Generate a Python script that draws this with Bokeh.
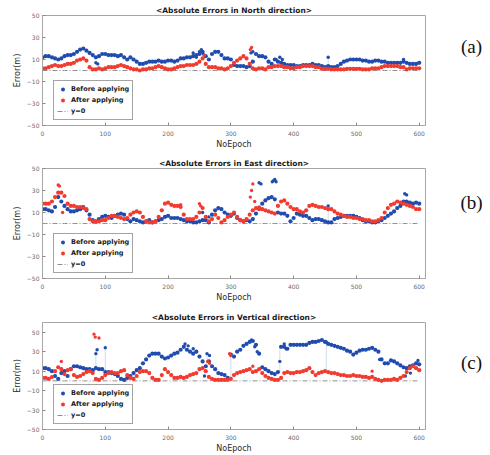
from bokeh.plotting import figure
from bokeh.models import Range1d, FixedTicker, Legend, LegendItem, Label
from bokeh.layouts import column, row
from bokeh.embed import file_html
from bokeh.resources import INLINE

# ---------------- data ----------------
epochs = list(range(0, 601, 5))
zeros = [0] * len(epochs)
x_ticks = [0, 100, 200, 300, 400, 500, 600]
y_ticks = [-50, -30, -10, 10, 30, 50]

north_before = [12, 13, 13, 12, 11, 10, 11, 13, 14, 14,
                15, 17, 19, 20, 18, 16, 14, 12, 13, 15,
                15, 14, 14, 14, 13, 14, 12, 10, 12, 10,
                8, 6, 6, 7, 8, 8, 8, 9, 8, 8,
                9, 9, 8, 9, 11, 11, 12, 12, 13, 14,
                15, 17, 13, 10, 15, 17, 17, 14, 11, 11,
                10, 5, 4, 4, 4, 3, 4, 8, 15, 13,
                13, 12, 8, 6, 10, 8, 7, 6, 5, 5,
                5, 4, 4, 5, 5, 5, 6, 5, 5, 4,
                3, 4, 3, 3, 4, 6, 8, 9, 10, 10,
                10, 10, 9, 9, 8, 8, 9, 9, 8, 8,
                7, 7, 7, 7, 7, 8, 7, 6, 6, 6,
                7]
north_after = [2, 2, 3, 4, 5, 4, 4, 5, 6, 6,
               7, 9, 10, 11, 9, 3, 1, 1, 2, 1,
               2, 3, 3, 3, 4, 5, 4, 3, 2, 1,
               1, 0, 1, 1, 2, 2, 3, 4, 3, 2,
               1, 1, 2, 3, 4, 4, 5, 5, 5, 6,
               8, 11, 6, 3, 3, 3, 2, 2, 1, 2,
               4, 7, 9, 11, 13, 11, 6, 2, 1, 2,
               2, 1, 3, 3, 4, 4, 4, 3, 3, 2,
               2, 3, 3, 4, 4, 4, 4, 3, 3, 1.5,
               1.5, 1.5, 1, 1, 1, 1, 1, 1.5, 1.5, 1.5,
               1.5, 1.5, 1, 1, 1, 2, 2, 2, 3, 4,
               4, 4, 4, 4, 3, 3, 1, 2, 2, 2,
               2]
north_before_out_x = [85, 88, 240, 245, 250, 253, 256, 332, 335, 372, 378, 382, 455, 575]
north_before_out_y = [7, 6, 16, 12, 17, 19, 15, 16, 17, 10, 12, 10, 12, 10]
north_after_out_x = [258, 331, 333]
north_after_out_y = [14, 19, 21]

east_before = [13, 13, 12, 11, 15, 24, 20, 16, 13, 11,
               11, 12, 13, 15, 12, 8, 3, 2, 4, 6,
               7, 6, 5, 7, 8, 9, 8, 4, 2, 4,
               3, 2, 1, 2, 3, 1, 2, 3, 4, 6,
               7, 5, 5, 5, 4, 3, 2, 2, 1, 1,
               2, 3, 3, 1, 8, 12, 14, 13, 10, 8,
               7, 9, 5, 3, 2, 3, 2, 4, 9, 14,
               18, 21, 23, 24, 22, 10, 9, 9, 7, 2,
               5, 9, 8, 7, 7, 5, 3, 4, 4, 3,
               2, 1, 1, 4, 5, 6, 7, 7, 7, 7,
               6, 5, 3, 2, 2, 1, 1, 2, 3, 5,
               7, 9, 11, 14, 16, 20, 20, 19, 18, 19,
               18]
east_after = [18, 18, 18, 20, 24, 28, 28, 25, 18, 16,
              16, 15, 15, 14, 13, 4, 2, 2, 2, 3,
              3, 5, 7, 7, 6, 5, 4, 5, 8, 10,
              11, 10, 6, 2, 1, 1, 2, 6, 12, 18,
              19, 17, 16, 16, 15, 8, 4, 4, 4, 6,
              10, 14, 6, 2, 4, 8, 5, 1, 3, 6,
              8, 10, 6, 3, 2, 4, 8, 12, 14, 13,
              13, 12, 11, 10, 9, 16, 20, 21, 18, 15,
              13, 13, 11, 10, 12, 16, 17, 16, 15, 15,
              14, 13, 13, 11, 9, 8, 7, 6, 6, 5,
              5, 4, 4, 3, 3, 2, 2, 3, 5, 10,
              14, 17, 18, 20, 19, 18, 17, 16, 15, 13,
              13]
east_before_out_x = [255, 265, 345, 348, 366, 368, 370, 372, 455, 577, 580]
east_before_out_y = [10, 6, 37, 36, 38, 39, 40, 38, 16, 27, 26]
east_after_out_x = [25, 27, 32, 220, 250, 252, 331, 333, 335, 338, 345]
east_after_out_y = [35, 34, 10, 17, 18, 16, 24, 30, 36, 20, 15]

vert_before = [13, 13, 12, 10, 5, 2, 8, 10, 5, 12,
               15, 15, 14, 13, 12, 12, 11, 13, 12, 12,
               9, 9, 8, 7, 5, 2, 1, 3, 5, 8,
               11, 13, 18, 22, 26, 28, 28, 28, 25, 23,
               24, 26, 28, 29, 32, 35, 32, 30, 28, 30,
               25, 20, 15, 20, 15, 12, 8, 7, 6, 3,
               27, 25, 30, 32, 36, 38, 40, 41, 37, 28,
               14, 12, 10, 8, 7, 9, 35, 35, 33, 37,
               37, 37, 37, 37, 37, 39, 40, 40, 41, 42,
               40, 38, 37, 36, 35, 34, 33, 31, 30, 27,
               29, 31, 32, 32, 33, 34, 32, 30, 22, 18,
               18, 21, 20, 18, 16, 14, 13, 15, 16, 18,
               17]
vert_after = [3, 3, 2, 4, 10, 14, 12, 7, 11, 12,
              6, 4, 5, 7, 9, 10, 8, 2, 1, 3,
              6, 8, 9, 8, 8, 10, 11, 6, 3, 2,
              5, 9, 10, 10, 8, 3, 1, 1, 6, 12,
              9, 6, 3, 3, 4, 3, 4, 6, 7, 8,
              12, 13, 10, 4, 2, 1, 1, 1, 1, 1,
              2, 6, 8, 9, 10, 11, 12, 9, 10, 12,
              8, 5, 3, 2, 1, 1, 3, 8, 9, 8,
              8, 9, 9, 10, 11, 13, 9, 6, 8, 9,
              10, 9, 8, 8, 7, 6, 6, 5, 5, 6,
              5, 5, 4, 4, 3, 4, 2, 1, 0, 1,
              1, 1, 2, 1, 3, 5, 9, 13, 15, 13,
              11]
vert_before_out_x = [85, 87, 100, 227, 232, 240, 245, 258, 262, 266, 333, 338, 342, 378, 385, 388, 452, 537, 578, 586, 598]
vert_before_out_y = [28, 32, 34, 38, 36, 33, 30, 5, 28, 26, 42, 35, 30, 20, 38, 33, 40, 22, 5, 8, 21]
vert_after_out_x = [30, 82, 84, 90, 263, 266, 298, 300, 335, 525]
vert_after_out_y = [20, 48, 45, 44, 20, 18, 28, 26, 15, 10]

# faint stems seen in the picture
north_stem_x, north_stem_y0, north_stem_y1 = [455], [3], [12]
east_stem_x, east_stem_y0, east_stem_y1 = [455], [1], [16]
vert_stem_x = [85, 100, 262, 300, 378, 452]
vert_stem_y0 = [12, 9, 15, 3, 9, 40]
vert_stem_y1 = [32, 34, 28, 27, 35, 10]

BLUE = "#1f4cae"
RED = "#f23b2f"
GRAY = "#a6a6a6"
FONT = "DejaVu Sans"


def make_panel(title, before, after, bx, by, ax_, ay, sx, sy0, sy1, ymax, height, bottom):
    p = figure(width=433, height=height, x_range=Range1d(0, 610), y_range=Range1d(-50, ymax),
               output_backend="svg", toolbar_location=None, title=title,
               min_border_left=42, min_border_right=8, min_border_top=15, min_border_bottom=bottom)
    p.title.text_font = FONT
    p.title.text_font_size = "7.5px"
    p.title.text_font_style = "bold"
    p.title.text_color = "#1a1a1a"
    p.title.align = "center"
    p.title.standoff = 2
    p.grid.visible = False
    p.outline_line_color = GRAY
    p.background_fill_color = "white"

    for a in (p.xaxis[0], p.yaxis[0]):
        a.axis_line_color = GRAY
        a.major_tick_line_color = "#888888"
        a.major_tick_in = 3
        a.major_tick_out = 0
        a.minor_tick_line_color = None
        a.major_label_text_font = FONT
        a.major_label_text_font_size = "6px"
        a.major_label_text_color = "#6a6a6a"
        a.axis_label_text_font = FONT
        a.axis_label_text_font_size = "8px"
        a.axis_label_text_font_style = "normal"
        a.axis_label_text_color = "#2a2a2a"
    p.xaxis.ticker = FixedTicker(ticks=x_ticks)
    p.yaxis.ticker = FixedTicker(ticks=y_ticks)
    p.xaxis.axis_label = "NoEpoch"
    p.yaxis.axis_label = "Error(m)"
    p.xaxis.major_label_standoff = 5
    p.xaxis.axis_label_standoff = 1
    p.yaxis.major_label_standoff = 3
    p.yaxis.axis_label_standoff = 2

    p.segment(sx, sy0, sx, sy1, line_color="#9fb8e0", line_width=0.7, line_alpha=0.7)
    r0 = p.line(epochs, zeros, line_color="#8f8f8f", line_width=1, line_dash="5 2 1 2")
    rb = p.scatter(epochs, before, size=4.2, marker="circle", fill_color=BLUE, line_color=None)
    p.scatter(bx, by, size=3.4, marker="circle", fill_color=BLUE, line_color=None)
    ra = p.scatter(epochs, after, size=4.2, marker="circle", fill_color=RED, line_color=None)
    p.scatter(ax_, ay, size=3.4, marker="circle", fill_color=RED, line_color=None)

    leg = Legend(items=[LegendItem(label="Before applying", renderers=[rb]),
                        LegendItem(label="After applying", renderers=[ra]),
                        LegendItem(label="y=0", renderers=[r0])],
                 location=(11, 5))
    leg.label_text_font = FONT
    leg.label_text_font_size = "6.5px"
    leg.label_text_font_style = "bold"
    leg.label_text_color = "#1a1a1a"
    leg.label_height = 10
    leg.glyph_height = 10
    leg.glyph_width = 11
    leg.label_standoff = 3
    leg.padding = 3
    leg.spacing = 1
    leg.margin = 0
    leg.border_line_color = "#4a4a4a"
    leg.border_line_width = 1
    leg.background_fill_alpha = 1
    p.add_layout(leg)
    return p


def make_tag(text, height, y):
    t = figure(width=57, height=height, x_range=Range1d(0, 1), y_range=Range1d(0, 1),
               output_backend="svg", toolbar_location=None, x_axis_type=None, y_axis_type=None,
               min_border_left=0, min_border_right=0, min_border_top=0, min_border_bottom=0)
    t.outline_line_color = None
    t.grid.visible = False
    t.add_layout(Label(x=38, y=y, x_units="screen", y_units="screen", text=text,
                       text_font="Liberation Serif", text_font_size="19px",
                       text_align="center", text_baseline="middle", text_color="#111111"))
    return t


pa = make_panel("<Absolute Errors in North direction>", north_before, north_after,
                north_before_out_x, north_before_out_y, north_after_out_x, north_after_out_y,
                north_stem_x, north_stem_y0, north_stem_y1, 50, 151, 26)
pb = make_panel("<Absolute Errors in East direction>", east_before, east_after,
                east_before_out_x, east_before_out_y, east_after_out_x, east_after_out_y,
                east_stem_x, east_stem_y0, east_stem_y1, 50, 152, 27)
pc = make_panel("<Absolute Errors in Vertical direction>", vert_before, vert_after,
                vert_before_out_x, vert_before_out_y, vert_after_out_x, vert_after_out_y,
                vert_stem_x, vert_stem_y0, vert_stem_y1, 60, 148, 26)

ta = make_tag("(a)", 151, 79)
tb = make_tag("(b)", 152, 76)
tc = make_tag("(c)", 148, 67)

layout = column(row(pa, ta, spacing=0), row(pb, tb, spacing=0), row(pc, tc, spacing=0), spacing=2)
open("out.html", "w").write(file_html(layout, INLINE))
